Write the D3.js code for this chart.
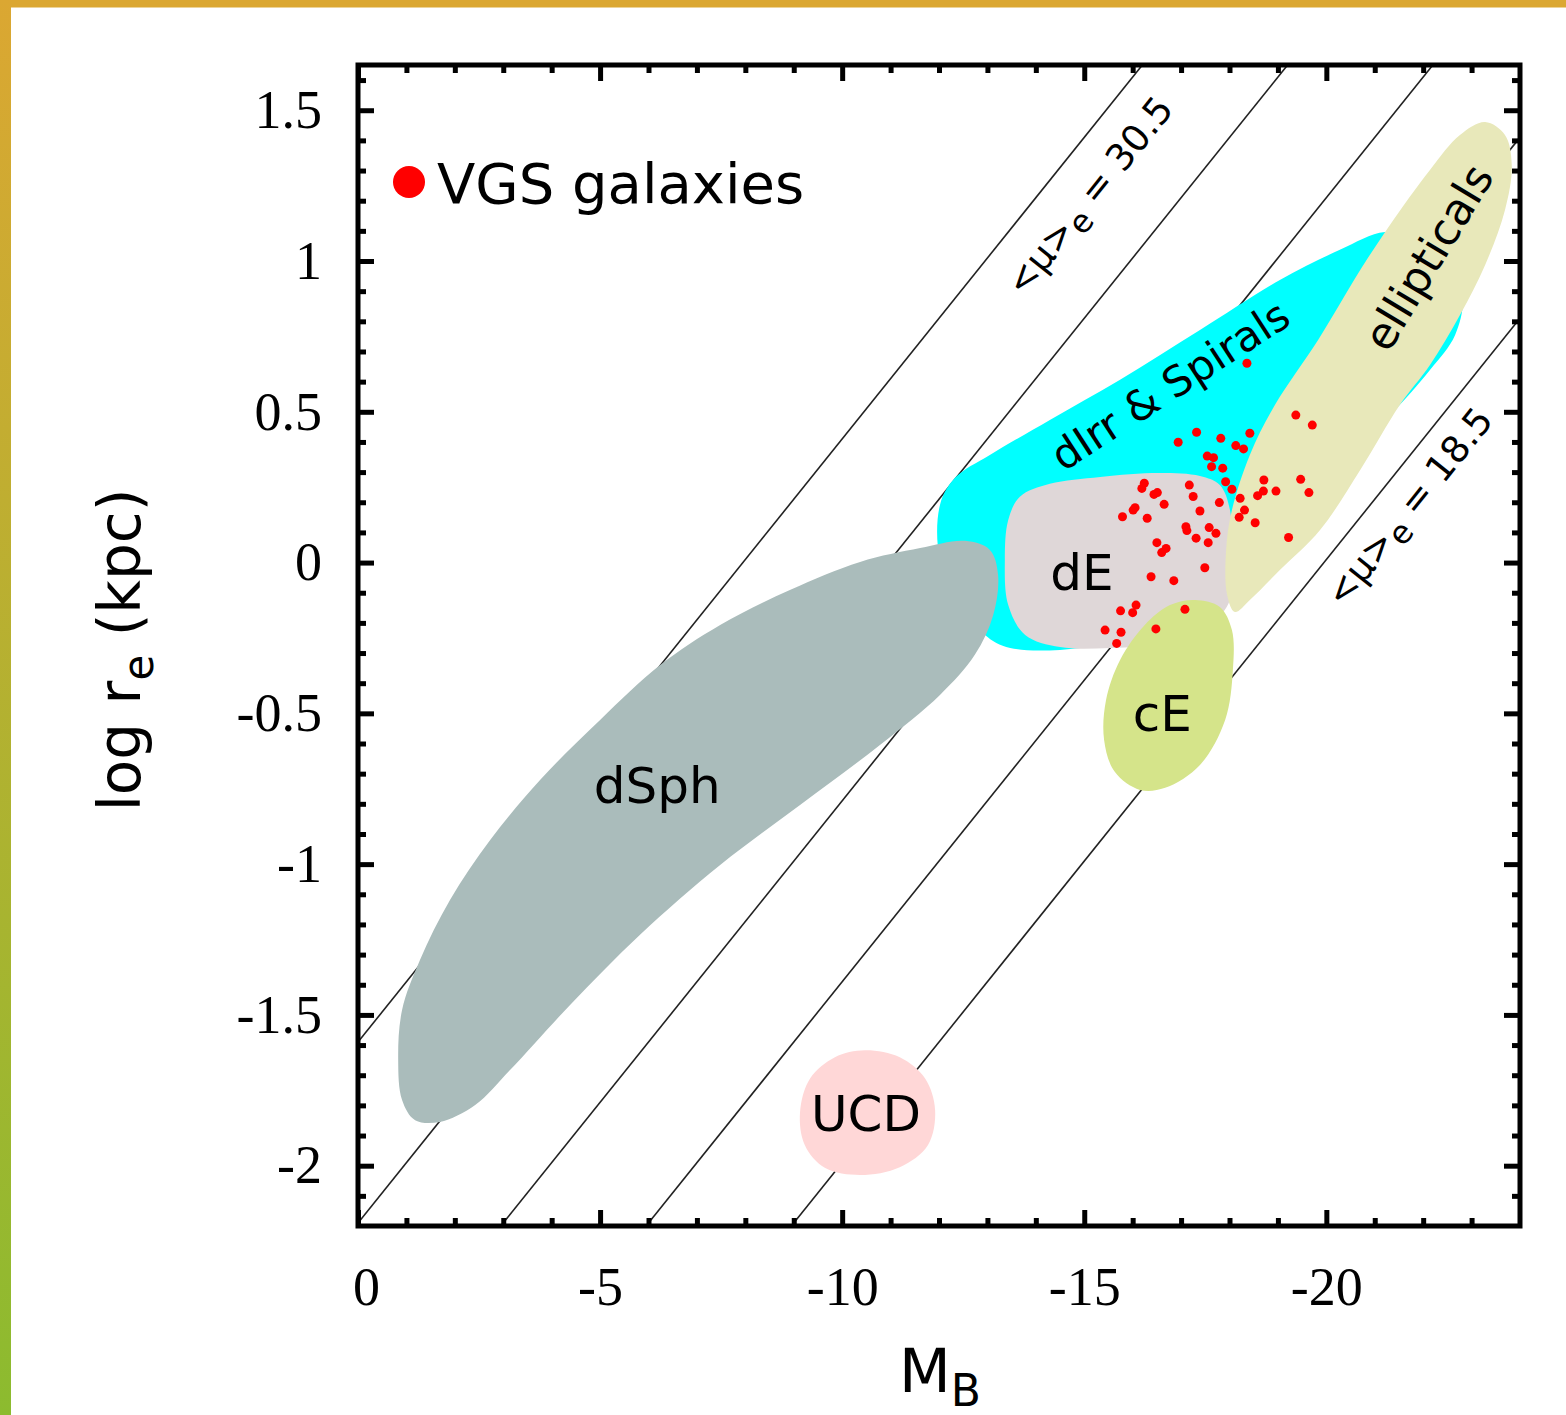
<!DOCTYPE html>
<html>
<head>
<meta charset="utf-8">
<script src="https://cdn.jsdelivr.net/npm/d3@7"></script>
<style>
  body { margin: 0; background: #fff; }
</style>
</head>
<body>
<div id="chart"></div>
<script>
// lines of constant mean surface brightness <mu>_e
const muLevels = [30.5, 27.5, 24.5, 21.5, 18.5];
const muZero = 38.45;   // <mu>_e = M_B + 5 log r_e + muZero

const xTickLabels = [0, -5, -10, -15, -20];
const yTickLabels = [1.5, 1, 0.5, 0, -0.5, -1, -1.5, -2];

// VGS galaxies
const vgsMB = [-19.37,-19.71,-17.32,-16.94,-17.82,-18.42,-18.13,-18.29,-17.54,-17.67,
  -17.63,-17.86,-17.92,-18.05,-18.22,-18.71,-19.47,-19.64,-18.96,-18.70,
  -18.58,-18.31,-18.20,-18.53,-19.22,-17.79,-17.17,-17.25,-17.39,-16.19,
  -16.24,-16.44,-16.51,-16.65,-16.01,-16.05,-15.79,-16.30,-17.10,-17.12,
  -17.31,-17.58,-17.72,-17.56,-16.50,-16.69,-16.60,-17.49,-16.38,-16.85,
  -17.08,-15.75,-16.07,-16.00,-15.43,-15.76,-15.67,-16.48,-18.36];
const vgsLogRe = [0.489,0.456,0.432,0.399,0.412,0.429,0.388,0.377,0.353,0.348,
  0.318,0.313,0.268,0.243,0.213,0.274,0.276,0.232,0.237,0.237,
  0.222,0.174,0.150,0.132,0.083,0.199,0.257,0.219,0.171,0.246,
  0.263,0.226,0.232,0.193,0.174,0.182,0.152,0.147,0.119,0.106,
  0.081,0.116,0.097,0.066,0.066,0.047,0.033,-0.017,-0.047,-0.060,
  -0.155,-0.160,-0.141,-0.166,-0.224,-0.231,-0.268,-0.220,0.661];

// region outlines, [M_B, log r_e]
const dIrrSpirals = [[-12.02,0.191],[-12.33,0.281],[-13.05,0.357],[-14.29,0.473],[-15.74,0.606],
  [-17.39,0.771],[-19.04,0.937],[-20.28,1.037],[-21.21,1.096],[-21.93,1.070],[-22.55,0.997],
  [-22.82,0.887],[-22.66,0.755],[-22.14,0.639],[-21.31,0.489],[-20.28,0.340],[-19.04,0.141],
  [-17.80,-0.058],[-16.36,-0.224],[-14.91,-0.283],[-13.47,-0.283],[-12.95,-0.240],
  [-12.43,-0.124],[-12.02,0.009]];
const dSph = [[-0.83,-1.649],[-0.91,-1.484],[-1.28,-1.318],[-1.90,-1.119],[-2.73,-0.920],
  [-3.76,-0.721],[-5.00,-0.522],[-6.24,-0.340],[-7.48,-0.207],[-8.92,-0.091],[-10.37,0.002],
  [-11.61,0.048],[-12.54,0.072],[-13.05,0.042],[-13.22,-0.041],[-13.12,-0.174],[-12.74,-0.306],
  [-12.02,-0.439],[-10.78,-0.605],[-9.13,-0.804],[-7.48,-1.003],[-5.82,-1.235],[-4.38,-1.467],
  [-3.14,-1.683],[-2.42,-1.799],[-1.69,-1.855],[-1.18,-1.849],[-0.91,-1.782]];
const dE = [[-13.36,0.009],[-13.43,0.141],[-13.67,0.218],[-14.29,0.261],[-15.33,0.284],
  [-16.56,0.297],[-17.39,0.287],[-17.80,0.257],[-18.01,0.174],[-18.05,0.009],[-18.01,-0.124],
  [-17.60,-0.207],[-16.77,-0.263],[-15.53,-0.283],[-14.50,-0.280],[-13.78,-0.240],[-13.43,-0.141]];
const ellipticals = [[-23.28,1.461],[-23.69,1.418],[-23.83,1.318],[-23.69,1.169],[-23.28,0.987],
  [-22.76,0.821],[-22.14,0.655],[-21.52,0.523],[-20.70,0.307],[-19.87,0.108],[-19.04,-0.025],
  [-18.42,-0.124],[-18.11,-0.164],[-17.95,-0.107],[-17.93,0.042],[-18.05,0.174],[-18.42,0.357],
  [-18.94,0.523],[-19.83,0.738],[-20.70,0.970],[-21.31,1.119],[-22.14,1.302],[-22.76,1.418]];
const cE = [[-17.29,-0.124],[-17.80,-0.147],[-18.05,-0.224],[-18.07,-0.356],[-17.91,-0.522],
  [-17.39,-0.671],[-16.67,-0.747],[-16.15,-0.754],[-15.63,-0.694],[-15.41,-0.588],
  [-15.45,-0.456],[-15.74,-0.323],[-16.25,-0.207],[-16.77,-0.141]];
const UCD = [[-10.47,-1.617],[-11.19,-1.640],[-11.71,-1.710],[-11.92,-1.816],[-11.77,-1.932],
  [-11.19,-2.005],[-10.37,-2.031],[-9.65,-2.008],[-9.23,-1.932],[-9.13,-1.822],[-9.34,-1.710],
  [-9.85,-1.640]];

const regions = [
  {name: "dIrr & Spirals", pts: dIrrSpirals, color: "#00ffff", at: [-16.77, 0.589], rot: -33, size: 42},
  {name: "dSph", pts: dSph, color: "#aabcbb", at: [-6.18, -0.738], rot: 0, size: 50},
  {name: "dE", pts: dE, color: "#dfd7d8", at: [-14.95, -0.031], rot: 0, size: 50},
  {name: "ellipticals", pts: ellipticals, color: "#e8e8ba", at: [-22.10, 1.013], rot: -59, size: 44},
  {name: "cE", pts: cE, color: "#d5e48a", at: [-16.61, -0.499], rot: 0, size: 50},
  {name: "UCD", pts: UCD, color: "#ffd7d7", at: [-10.49, -1.825], rot: 0, size: 50}
];

const W = 1566, H = 1415;
const margin = {left: 358, right: 46, top: 65, bottom: 189};

const svg = d3.select("#chart").append("svg")
  .attr("width", W).attr("height", H);

// frame of the page
const grad = svg.append("defs").append("linearGradient")
  .attr("id", "edge").attr("x1", 0).attr("y1", 0).attr("x2", 0).attr("y2", 1);
grad.append("stop").attr("offset", "0%").attr("stop-color", "#dba732");
grad.append("stop").attr("offset", "100%").attr("stop-color", "#8cbb2f");
svg.append("rect").attr("x", 0).attr("y", 0).attr("width", W).attr("height", 7.5).attr("fill", "#dba732");
svg.append("rect").attr("x", 0).attr("y", 0).attr("width", 11).attr("height", H).attr("fill", "url(#edge)");

const x = d3.scaleLinear().domain([0, -24]).range([margin.left, W - margin.right]);
const y = d3.scaleLinear().domain([-2.2, 1.65]).range([H - margin.bottom, margin.top]);

svg.select("defs").append("clipPath").attr("id", "plotclip")
  .append("rect")
  .attr("x", x(0)).attr("y", y(1.65))
  .attr("width", x(-24) - x(0)).attr("height", y(-2.2) - y(1.65));

const logReOnLine = (mu, m) => (mu - m - muZero) / 5;

// surface brightness lines
const lineGen = d3.line().x(d => x(d[0])).y(d => y(d[1]));
svg.append("g").attr("clip-path", "url(#plotclip)")
  .selectAll("path").data(muLevels).enter().append("path")
  .attr("d", mu => lineGen([[0, logReOnLine(mu, 0)], [-24, logReOnLine(mu, -24)]]))
  .attr("fill", "none").attr("stroke", "#222").attr("stroke-width", 1.6);

// regions
const blob = d3.line().x(d => x(d[0])).y(d => y(d[1])).curve(d3.curveCatmullRomClosed.alpha(0.5));
svg.append("g").selectAll("path").data(regions).enter().append("path")
  .attr("d", d => blob(d.pts))
  .attr("fill", d => d.color);

svg.append("g").selectAll("text").data(regions).enter().append("text")
  .attr("transform", d => `translate(${x(d.at[0])},${y(d.at[1])}) rotate(${d.rot})`)
  .attr("text-anchor", "middle").attr("dy", "0.36em")
  .attr("font-family", "DejaVu Sans").attr("font-size", d => d.size)
  .text(d => d.name);

// labels on the two outer lines
function lineLabel(mu, m, offset) {
  const p1 = [x(m), y(logReOnLine(mu, m))];
  const p2 = [x(m - 1), y(logReOnLine(mu, m - 1))];
  const dx = p2[0] - p1[0], dy = p2[1] - p1[1], len = Math.hypot(dx, dy);
  const ang = Math.atan2(dy, dx) * 180 / Math.PI;
  const cx = p1[0] - dy / len * offset, cy = p1[1] + dx / len * offset;
  const t = svg.append("text")
    .attr("transform", `translate(${cx},${cy}) rotate(${ang})`)
    .attr("text-anchor", "middle").attr("dy", "0.36em")
    .attr("font-family", "DejaVu Sans").attr("font-size", 37);
  t.append("tspan").text("<μ>");
  t.append("tspan").attr("font-size", 32).attr("dy", 8).text("e");
  t.append("tspan").attr("dy", -8).text(" = " + mu);
}
lineLabel(muLevels[0], -14.45, 40);
lineLabel(muLevels[4], -21.2, 31);

// VGS points
svg.append("g").selectAll("circle").data(vgsMB).enter().append("circle")
  .attr("cx", d => x(d)).attr("cy", (d, i) => y(vgsLogRe[i]))
  .attr("r", 4.5).attr("fill", "#ff0000");

// legend
svg.append("circle").attr("cx", 409).attr("cy", 182).attr("r", 16).attr("fill", "#ff0000");
svg.append("text").attr("x", 437).attr("y", 203)
  .attr("font-family", "DejaVu Sans").attr("font-size", 56)
  .text("VGS galaxies");

// ticks on all four sides, pointing in
const majorX = d3.range(0, -24.01, -5);
const minorX = d3.range(-1, -24, -1).filter(v => v % 5 !== 0);
const majorY = d3.range(-4, 4).map(k => k / 2);
const minorY = d3.range(-21, 17).filter(k => k % 5 !== 0).map(k => k / 10);

function ticks(axis, values, size, tr) {
  svg.append("g").attr("transform", tr)
    .call(axis.tickValues(values).tickSize(-size).tickFormat(""))
    .call(g => g.select(".domain").remove())
    .call(g => g.selectAll("line").attr("stroke", "#000").attr("stroke-width", 5));
}
const bottomY = H - margin.bottom, rightX = W - margin.right;
ticks(d3.axisBottom(x), majorX, 16, `translate(0,${bottomY})`);
ticks(d3.axisBottom(x), minorX, 8, `translate(0,${bottomY})`);
ticks(d3.axisTop(x), majorX, 16, `translate(0,${margin.top})`);
ticks(d3.axisTop(x), minorX, 8, `translate(0,${margin.top})`);
ticks(d3.axisLeft(y), majorY, 16, `translate(${margin.left},0)`);
ticks(d3.axisLeft(y), minorY, 8, `translate(${margin.left},0)`);
ticks(d3.axisRight(y), majorY, 16, `translate(${rightX},0)`);
ticks(d3.axisRight(y), minorY, 8, `translate(${rightX},0)`);

// tick labels
svg.append("g").attr("transform", `translate(0,${bottomY})`)
  .call(d3.axisBottom(x).tickValues(xTickLabels).tickSize(0).tickFormat(d => String(d)))
  .call(g => g.select(".domain").remove())
  .attr("font-family", "Liberation Serif").attr("font-size", 54)
  .selectAll("text").attr("y", 79).attr("dy", 0).attr("fill", "#000")
  .attr("dx", d => d === 0 ? 8 : 0);

svg.append("g").attr("transform", `translate(${margin.left},0)`)
  .call(d3.axisLeft(y).tickValues(yTickLabels).tickSize(0).tickPadding(36).tickFormat(d => String(d)))
  .call(g => g.select(".domain").remove())
  .attr("font-family", "Liberation Serif").attr("font-size", 54)
  .selectAll("text").attr("fill", "#000");

// plot frame
svg.append("rect")
  .attr("x", x(0)).attr("y", y(1.65))
  .attr("width", x(-24) - x(0)).attr("height", y(-2.2) - y(1.65))
  .attr("fill", "none").attr("stroke", "#000").attr("stroke-width", 5);

// axis titles
const xt = svg.append("text").attr("x", 940).attr("y", 1392)
  .attr("text-anchor", "middle")
  .attr("font-family", "DejaVu Sans").attr("font-size", 60);
xt.append("tspan").text("M");
xt.append("tspan").attr("font-size", 44).attr("dy", 14).text("B");

const yt = svg.append("text")
  .attr("transform", "translate(140,650) rotate(-90)")
  .attr("text-anchor", "middle")
  .attr("font-family", "DejaVu Sans").attr("font-size", 58);
yt.append("tspan").text("log r");
yt.append("tspan").attr("font-size", 42).attr("dy", 13).text("e");
yt.append("tspan").attr("dy", -13).text("  (kpc)");
</script>
</body>
</html>
